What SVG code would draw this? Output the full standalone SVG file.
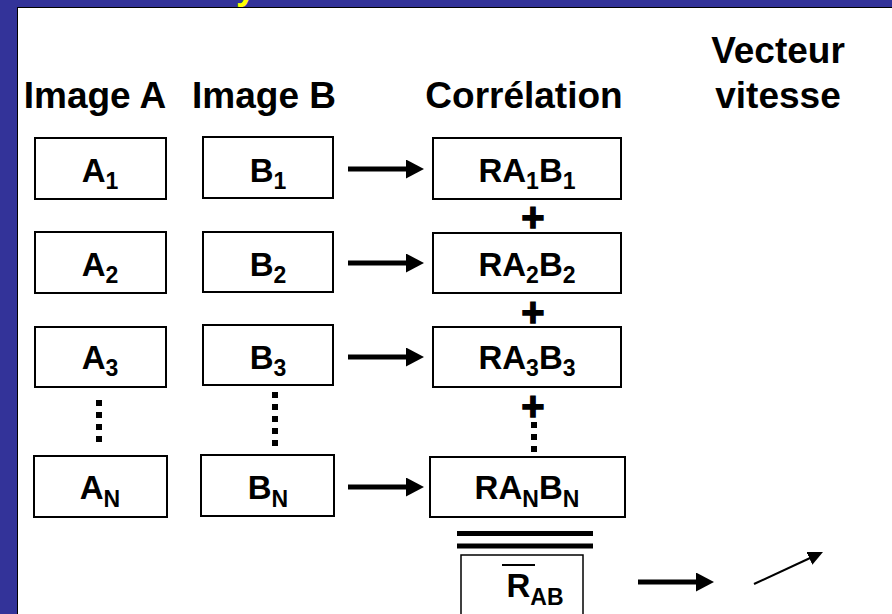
<svg xmlns="http://www.w3.org/2000/svg" width="892" height="614" viewBox="0 0 892 614">
  <style>
    .box { fill: #ffffff; stroke: #000000; stroke-width: 2; }
    .t { font-family: "Liberation Sans", Arial, sans-serif; font-weight: bold; fill: #000000; }
    .hdr { font-size: 37px; text-anchor: middle; }
    .lbl { font-size: 33px; text-anchor: middle; }
    .sub { font-size: 23px; }
    .plus { font-size: 40px; text-anchor: middle; stroke: #000000; stroke-width: 1.3; }
    .arrow { stroke: #000000; stroke-width: 5; fill: none; }
    .dots { stroke: #000000; stroke-width: 6; stroke-dasharray: 6 6; fill: none; }
  </style>
  <defs>
    <marker id="head" markerUnits="userSpaceOnUse" markerWidth="19" markerHeight="19" refX="3" refY="9.5" orient="auto">
      <path d="M0,0 L18,9.5 L0,19 z" fill="#000000"/>
    </marker>
    <marker id="thinHead" markerUnits="userSpaceOnUse" markerWidth="16" markerHeight="15" refX="2" refY="7" orient="auto">
      <path d="M0,0 L15,7 L0,14 z" fill="#000000"/>
    </marker>
  </defs>

  <!-- slide frame -->
  <rect x="0" y="0" width="892" height="614" fill="#333399"/>
  <text class="t" x="236" y="-1" font-size="36" style="fill:#ffff00">y</text>
  <rect x="17.5" y="7.5" width="880" height="620" fill="#ffffff" stroke="#000000" stroke-width="1"/>

  <!-- column headers -->
  <g id="headers">
    <text class="t hdr" x="95" y="108">Image A</text>
    <text class="t hdr" x="264" y="108">Image B</text>
    <text class="t hdr" x="524" y="108">Corrélation</text>
    <text class="t hdr" x="778" y="63">Vecteur</text>
    <text class="t hdr" x="778" y="108">vitesse</text>
  </g>

  <!-- image A column -->
  <g id="A1"><rect class="box" x="35" y="138" width="131" height="61"/><text class="t lbl" x="100" y="182">A<tspan class="sub" dy="7">1</tspan></text></g>
  <g id="A2"><rect class="box" x="35" y="232" width="131" height="61"/><text class="t lbl" x="100" y="276">A<tspan class="sub" dy="7">2</tspan></text></g>
  <g id="A3"><rect class="box" x="35" y="327" width="131" height="60"/><text class="t lbl" x="100" y="369">A<tspan class="sub" dy="7">3</tspan></text></g>
  <g id="AN"><rect class="box" x="34" y="456" width="133" height="61"/><text class="t lbl" x="100" y="499">A<tspan class="sub" dy="8">N</tspan></text></g>

  <!-- image B column -->
  <g id="B1"><rect class="box" x="203" y="137" width="130" height="61"/><text class="t lbl" x="268" y="182">B<tspan class="sub" dy="7">1</tspan></text></g>
  <g id="B2"><rect class="box" x="203" y="232" width="130" height="60"/><text class="t lbl" x="268" y="276">B<tspan class="sub" dy="7">2</tspan></text></g>
  <g id="B3"><rect class="box" x="203" y="325" width="130" height="60"/><text class="t lbl" x="268" y="369">B<tspan class="sub" dy="7">3</tspan></text></g>
  <g id="BN"><rect class="box" x="201" y="455" width="133" height="61"/><text class="t lbl" x="268" y="499">B<tspan class="sub" dy="8">N</tspan></text></g>

  <!-- correlation column -->
  <g id="R1"><rect class="box" x="433" y="138" width="188" height="61"/><text class="t lbl" x="527" y="182">RA<tspan class="sub" dy="7">1</tspan><tspan dy="-7">B</tspan><tspan class="sub" dy="7">1</tspan></text></g>
  <g id="R2"><rect class="box" x="433" y="233" width="188" height="60"/><text class="t lbl" x="527" y="276">RA<tspan class="sub" dy="7">2</tspan><tspan dy="-7">B</tspan><tspan class="sub" dy="7">2</tspan></text></g>
  <g id="R3"><rect class="box" x="433" y="327" width="188" height="60"/><text class="t lbl" x="527" y="369">RA<tspan class="sub" dy="7">3</tspan><tspan dy="-7">B</tspan><tspan class="sub" dy="7">3</tspan></text></g>
  <g id="RN"><rect class="box" x="430" y="457" width="195" height="60"/><text class="t lbl" x="527" y="499">RA<tspan class="sub" dy="8">N</tspan><tspan dy="-8">B</tspan><tspan class="sub" dy="8">N</tspan></text></g>

  <!-- sum signs -->
  <g id="sums">
    <text class="t plus" x="533" y="231">+</text>
    <text class="t plus" x="533" y="326">+</text>
    <text class="t plus" x="533" y="420">+</text>
  </g>

  <!-- mean correlation -->
  <g id="Rmean">
    <line x1="457" y1="533.5" x2="593" y2="533.5" stroke="#000000" stroke-width="5"/>
    <line x1="457" y1="546" x2="593" y2="546" stroke="#000000" stroke-width="5"/>
    <rect x="461" y="555" width="122" height="70" fill="#ffffff" stroke="#000000" stroke-width="1.5"/>
    <line x1="502" y1="565" x2="535" y2="565" stroke="#000000" stroke-width="2"/>
    <text class="t lbl" x="535" y="597">R<tspan class="sub" dy="8">AB</tspan></text>
  </g>

  <!-- connectors -->
  <g id="connectors">
    <line class="arrow" x1="348" y1="169" x2="409" y2="169" marker-end="url(#head)"/>
    <line class="arrow" x1="348" y1="263" x2="409" y2="263" marker-end="url(#head)"/>
    <line class="arrow" x1="348" y1="357" x2="409" y2="357" marker-end="url(#head)"/>
    <line class="arrow" x1="348" y1="487" x2="409" y2="487" marker-end="url(#head)"/>
    <line class="arrow" x1="638" y1="582" x2="699" y2="582" marker-end="url(#head)"/>
    <line x1="754" y1="584" x2="811.2" y2="557.5" stroke="#000000" stroke-width="2" marker-end="url(#thinHead)"/>
    <line class="dots" x1="99" y1="400" x2="99" y2="442"/>
    <line class="dots" x1="275" y1="392" x2="275" y2="446"/>
    <line class="dots" x1="534" y1="422" x2="534" y2="452"/>
  </g>
</svg>
